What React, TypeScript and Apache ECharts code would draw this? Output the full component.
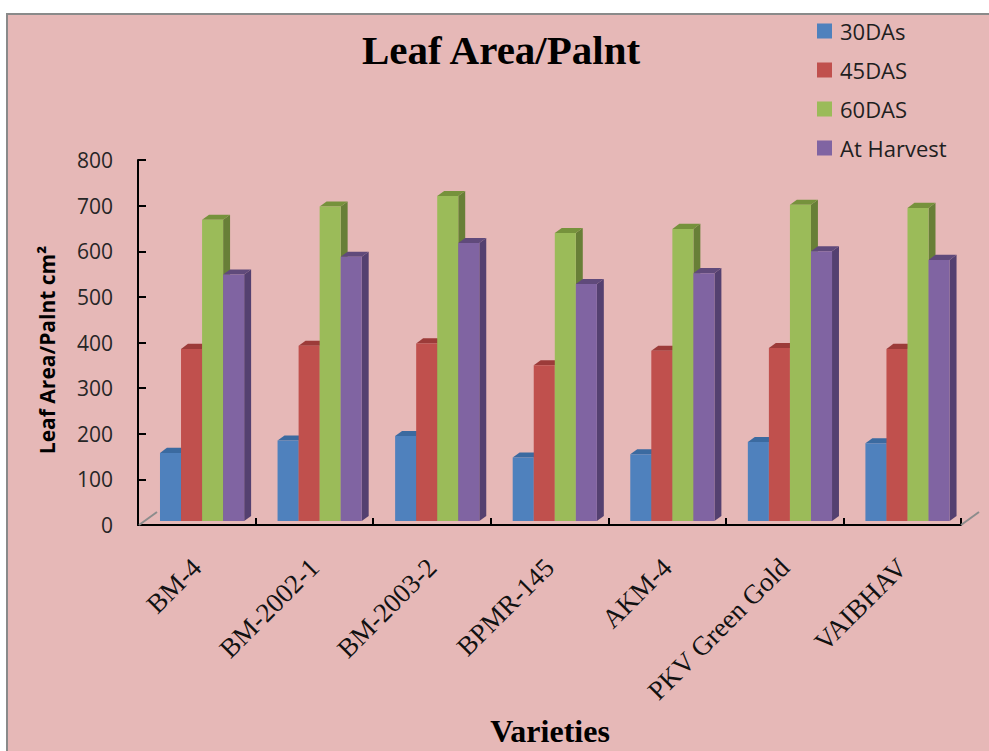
import React, { useEffect, useRef } from "react";
import * as echarts from "echarts";

// Leaf area per plant (cm²) of seven varieties at four growth stages
const categories = ["BM-4", "BM-2002-1", "BM-2003-2", "BPMR-145", "AKM-4", "PKV Green Gold", "VAIBHAV"];
const seriesNames = ["30DAs", "45DAS", "60DAS", "At Harvest"];
const das30 = [158, 185, 195, 148, 155, 182, 179];
const das45 = [386, 393, 398, 350, 382, 388, 386];
const das60 = [669, 698, 721, 640, 649, 702, 695];
const atHarvest = [549, 588, 618, 528, 552, 600, 581];
const yMin = 0;
const yMax = 800;
const yStep = 100;

// face colours of each prism: front, top, side
const frontColors = ["#4f81bd", "#c0504d", "#9bbb59", "#8064a2"];
const topColors = ["#3b6aa0", "#9c3b39", "#76923c", "#604a7b"];
const sideColors = ["#35608f", "#8e3735", "#687f37", "#544070"];

const seriesValues = [das30, das45, das60, atHarvest];

function makeRenderItem(k: number) {
  return (params: any, api: any) => {
    const idx = api.value(0);
    const val = api.value(1);
    const top = api.coord([idx, val]);
    const base = api.coord([idx, 0]);
    const cw = api.size([1, 0])[0];
    const w = cw * 0.179;
    const dx = w * 0.33;
    const dy = w * 0.24;
    const x0 = top[0] - 2 * w + k * w + cw * 0.045;
    const yT = top[1];
    const yB = base[1] - 4;
    return {
      type: "group",
      children: [
        {
          type: "polygon",
          shape: {
            points: [
              [x0 + w, yT],
              [x0 + w + dx, yT - dy],
              [x0 + w + dx, yB - dy],
              [x0 + w, yB],
            ],
          },
          style: { fill: sideColors[k] },
        },
        {
          type: "polygon",
          shape: {
            points: [
              [x0, yT],
              [x0 + dx, yT - dy],
              [x0 + w + dx, yT - dy],
              [x0 + w, yT],
            ],
          },
          style: { fill: topColors[k] },
        },
        {
          type: "rect",
          shape: { x: x0, y: yT, width: w, height: yB - yT },
          style: { fill: frontColors[k] },
        },
      ],
    };
  };
}

export default function App() {
  const ref = useRef<HTMLDivElement>(null);

  useEffect(() => {
    if (!ref.current) return;
    const chart = echarts.init(ref.current, undefined, { renderer: "svg" });
    const sans = "'Open Sans', 'DejaVu Sans', sans-serif";
    const serif = "'Liberation Serif', 'Times New Roman', serif";

    chart.setOption({
      animation: false,
      backgroundColor: "#ffffff",
      grid: { left: 138, right: 28, top: 160, bottom: 226, containLabel: false },
      legend: {
        orient: "vertical",
        left: 817,
        top: 20,
        padding: 0,
        icon: "rect",
        itemWidth: 15,
        itemHeight: 15,
        itemGap: 17,
        data: seriesNames,
        textStyle: { fontFamily: sans, fontSize: 22, color: "#1f1f1f", padding: [0, 0, 0, 3] },
      },
      xAxis: {
        type: "category",
        data: categories,
        axisLine: { show: true, lineStyle: { color: "#000", width: 2 } },
        axisTick: { show: true, inside: true, length: 7, lineStyle: { color: "#000", width: 2 } },
        axisLabel: {
          rotate: 45,
          interval: 0,
          margin: 38,
          fontFamily: serif,
          fontSize: 27,
          color: "#111",
        },
        splitLine: { show: false },
      },
      yAxis: {
        type: "value",
        min: yMin,
        max: yMax,
        interval: yStep,
        axisLine: { show: true, lineStyle: { color: "#000", width: 2 } },
        axisTick: { show: true, inside: true, length: 8, lineStyle: { color: "#000", width: 2 } },
        axisLabel: { margin: 25, fontFamily: sans, fontSize: 21, color: "#262626" },
        splitLine: { show: false },
      },
      series: seriesNames.map((name, k) => ({
        type: "custom",
        name,
        itemStyle: { color: frontColors[k] },
        renderItem: makeRenderItem(k),
        encode: { x: 0, y: 1 },
        data: seriesValues[k].map((v, i) => [i, v]),
        z: 2 + k,
      })),
      graphic: [
        {
          type: "rect",
          z: -100,
          shape: { x: 7, y: 14, width: 1000, height: 780 },
          style: { fill: "#e6b8b7", stroke: "#8a8a8a", lineWidth: 2 },
        },
        {
          type: "line",
          z: 1,
          shape: { x1: 139, y1: 525, x2: 157, y2: 512 },
          style: { stroke: "#8c8c8c", lineWidth: 2 },
        },
        {
          type: "line",
          z: 1,
          shape: { x1: 961, y1: 525, x2: 979, y2: 512 },
          style: { stroke: "#8c8c8c", lineWidth: 2 },
        },
        {
          type: "text",
          x: 501,
          y: 50,
          style: {
            text: "Leaf Area/Palnt",
            font: `bold 41px ${serif}`,
            fill: "#000",
            textAlign: "center",
            textVerticalAlign: "middle",
          },
        },
        {
          type: "text",
          x: 550,
          y: 731,
          style: {
            text: "Varieties",
            font: `bold 32px ${serif}`,
            fill: "#000",
            textAlign: "center",
            textVerticalAlign: "middle",
          },
        },
        {
          type: "text",
          x: 47,
          y: 350,
          rotation: Math.PI / 2,
          style: {
            text: "Leaf Area/Palnt cm²",
            font: `bold 21px ${sans}`,
            fill: "#000",
            textAlign: "center",
            textVerticalAlign: "middle",
          },
        },
      ],
    });

    return () => chart.dispose();
  }, []);

  return (
    <div
      ref={ref}
      style={{ position: "absolute", left: 0, top: 0, width: 989, height: 751 }}
    />
  );
}
